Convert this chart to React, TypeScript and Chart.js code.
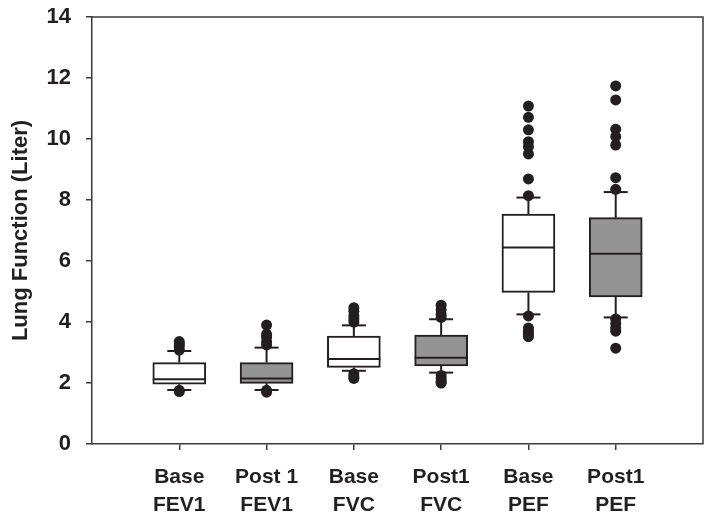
import { useEffect, useRef } from "react";
import { Chart, registerables } from "chart.js";

Chart.register(...registerables);

// ---------- data ----------
const categories: string[][] = [
  ["Base", "FEV1"],
  ["Post 1", "FEV1"],
  ["Base", "FVC"],
  ["Post1", "FVC"],
  ["Base", "PEF"],
  ["Post1", "PEF"],
];
const q1 = [1.96, 1.99, 2.51, 2.56, 4.97, 4.82];
const median = [2.12, 2.15, 2.79, 2.83, 6.44, 6.24];
const q3 = [2.67, 2.67, 3.54, 3.57, 7.54, 7.42];
const whiskerLow = [1.77, 1.77, 2.4, 2.34, 4.25, 4.15];
const whiskerHigh = [3.05, 3.16, 3.89, 4.09, 8.08, 8.26];
const outliers: number[][] = [
  [3.08, 3.2, 3.28, 3.36, 1.72, 1.76],
  [3.25, 3.35, 3.5, 3.6, 3.9, 1.7, 1.76],
  [4.0, 4.1, 4.2, 4.35, 4.47, 2.3, 2.2, 2.15],
  [4.15, 4.25, 4.4, 4.55, 2.25, 2.15, 2.05, 2.0],
  [8.14, 8.69, 9.51, 9.75, 9.91, 10.3, 10.71, 11.08, 4.2, 3.8, 3.7, 3.6, 3.52],
  [8.35, 8.73, 9.8, 10.08, 10.32, 11.28, 11.74, 4.1, 3.95, 3.8, 3.7, 3.14],
];
const boxFills = ["#ffffff", "#949494", "#ffffff", "#949494", "#ffffff", "#949494"];
const yTicks = [0, 2, 4, 6, 8, 10, 12, 14];
const yTitle = "Lung Function (Liter)";

const INK = "#231f20";

const framePlugin = {
  id: "frame",
  afterDatasetsDraw(chart: any) {
    const { ctx, chartArea } = chart;
    ctx.save();
    ctx.strokeStyle = "#3a3a3a";
    ctx.lineWidth = 1.5;
    ctx.beginPath();
    ctx.moveTo(chartArea.left, chartArea.top);
    ctx.lineTo(chartArea.right, chartArea.top);
    ctx.lineTo(chartArea.right, chartArea.bottom);
    ctx.stroke();
    ctx.restore();
  },
};

export default function App() {
  const ref = useRef<HTMLCanvasElement | null>(null);

  useEffect(() => {
    if (!ref.current) return;
    const xs = categories.map((_, i) => i + 1);

    const boxData = xs.map((x, i) => ({ x, y: [q1[i], q3[i]] }));
    const whiskerData: any[] = [];
    xs.forEach((x, i) => {
      whiskerData.push({ x, y: q3[i] }, { x, y: whiskerHigh[i] }, { x, y: null });
      whiskerData.push({ x, y: q1[i] }, { x, y: whiskerLow[i] }, { x, y: null });
    });
    const capData: any[] = [];
    xs.forEach((x, i) => {
      capData.push({ x, y: whiskerHigh[i] }, { x, y: whiskerLow[i] });
    });
    const medianData = xs.map((x, i) => ({ x, y: median[i] }));
    const outlierData: any[] = [];
    xs.forEach((x, i) => outliers[i].forEach((v) => outlierData.push({ x, y: v })));

    const tickFont = { family: "'Liberation Sans', Arial, sans-serif", weight: "bold" as const, size: 21 };

    const chart = new Chart(ref.current, {
      type: "bar",
      data: {
        datasets: [
          {
            type: "line",
            data: whiskerData,
            borderColor: INK,
            borderWidth: 2,
            pointRadius: 0,
            spanGaps: false,
            order: 5,
          } as any,
          {
            type: "bar",
            data: boxData as any,
            backgroundColor: boxFills,
            borderColor: INK,
            borderWidth: 2,
            borderSkipped: false,
            barThickness: 53,
            grouped: false,
            order: 4,
          } as any,
          {
            type: "scatter",
            data: medianData,
            pointStyle: "line",
            pointRadius: 26.5,
            borderColor: INK,
            borderWidth: 2,
            order: 3,
          } as any,
          {
            type: "scatter",
            data: capData,
            pointStyle: "line",
            pointRadius: 12,
            borderColor: INK,
            borderWidth: 2,
            order: 2,
          } as any,
          {
            type: "scatter",
            data: outlierData,
            pointStyle: "circle",
            pointRadius: 5.5,
            backgroundColor: INK,
            borderWidth: 0,
            order: 1,
          } as any,
        ],
      },
      options: {
        animation: false,
        responsive: false,
        layout: { autoPadding: false, padding: { top: 17, right: 11, left: 0, bottom: 0 } },
        plugins: { legend: { display: false }, tooltip: { enabled: false } },
        scales: {
          x: {
            type: "linear",
            min: 0,
            max: 7,
            offset: false,
            afterBuildTicks: (scale: any) => {
              scale.ticks = xs.map((v) => ({ value: v }));
            },
            afterFit: (scale: any) => {
              scale.height = 76;
              scale.paddingLeft = 0;
              scale.paddingRight = 0;
            },
            ticks: {
              font: { ...tickFont, lineHeight: 1.3 },
              color: INK,
              padding: 14,
              maxRotation: 0,
              autoSkip: false,
              callback: (v: any) => categories[Number(v) - 1] ?? "",
            },
            grid: { offset: false, drawOnChartArea: false, drawTicks: true, tickLength: 6, color: "#3a3a3a", lineWidth: 1.5 },
            border: { color: "#3a3a3a", width: 1.5 },
          },
          y: {
            type: "linear",
            min: 0,
            max: 14,
            afterBuildTicks: (scale: any) => {
              scale.ticks = yTicks.map((v) => ({ value: v }));
            },
            afterFit: (scale: any) => {
              scale.width = 92;
              scale.paddingTop = 0;
              scale.paddingBottom = 0;
            },
            ticks: {
              font: { ...tickFont, size: 22 },
              color: INK,
              padding: 15,
              callback: (v: any) => String(v),
            },
            grid: { drawOnChartArea: false, drawTicks: true, tickLength: 6, color: "#3a3a3a", lineWidth: 1.5 },
            border: { color: "#3a3a3a", width: 1.5 },
            title: {
              display: true,
              text: yTitle,
              color: INK,
              font: { ...tickFont, size: 22, lineHeight: 1.2 },
              padding: { top: 8, bottom: 0 },
            },
          },
        },
      },
      plugins: [framePlugin],
    });
    return () => chart.destroy();
  }, []);

  return (
    <div style={{ position: "fixed", left: 0, top: 0, width: 714, height: 520, background: "#fff" }}>
      <canvas ref={ref} width={714} height={520} style={{ display: "block" }} />
    </div>
  );
}
